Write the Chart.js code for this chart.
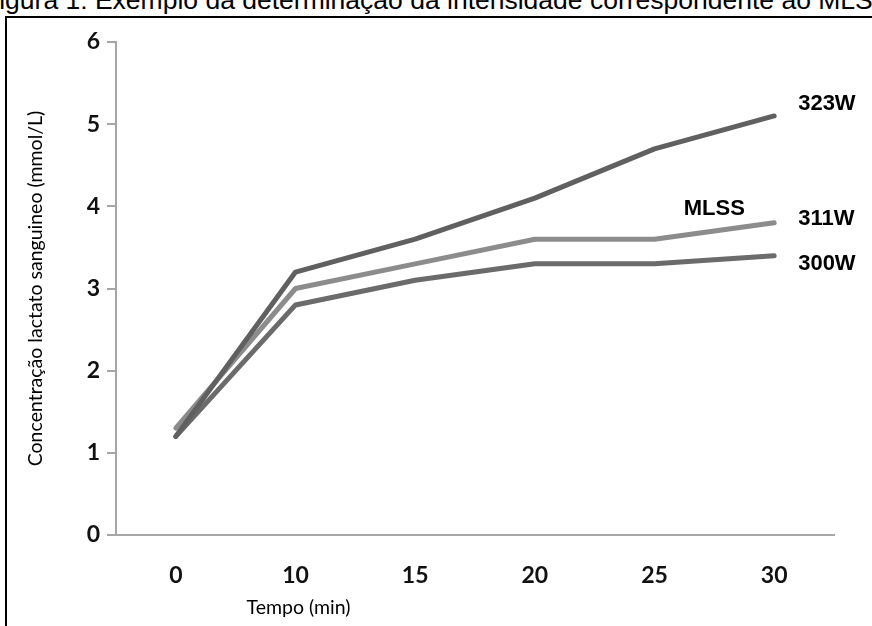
<!DOCTYPE html>
<html>
<head>
<meta charset="utf-8">
<script src="https://cdn.jsdelivr.net/npm/chart.js@4/dist/chart.umd.min.js"></script>
<style>
  html, body { margin: 0; padding: 0; background: #fff; }
  body { width: 872px; height: 626px; position: relative; overflow: hidden; }
  #caption {
    position: absolute; left: -17px; top: -15px; white-space: nowrap;
    font-family: "Liberation Sans", Arial, sans-serif; font-size: 26.5px; color: #000;
  }
  #frame {
    position: absolute; left: 5px; top: 16px; width: 900px; height: 700px;
    border-left: 2px solid #000; border-top: 2px solid #000;
  }
  #wrap { position: absolute; left: 0; top: 0; width: 872px; height: 626px; }
</style>
</head>
<body>
<div id="caption">Figura 1: Exemplo da determinação da intensidade correspondente ao MLSS</div>
<div id="frame"></div>
<div id="wrap"><canvas id="graph"></canvas></div>
<script>
// tempo (min)
const labels = ['0', '10', '15', '20', '25', '30'];

// lactato (mmol/L)
const w323 = [1.2, 3.2, 3.6, 4.1, 4.7, 5.1];
const w311 = [1.3, 3.0, 3.3, 3.6, 3.6, 3.8];
const w300 = [1.2, 2.8, 3.1, 3.3, 3.3, 3.4];

const seriesNames = ['323W', '311W', '300W'];
const yTicks = [0, 1, 2, 3, 4, 5, 6];

const soft = 'Lato, "Open Sans", sans-serif';
const bold = '"Liberation Sans", Arial, sans-serif';

// labels at the end of each line + MLSS + x title
const endLabels = {
  id: 'endLabels',
  afterDraw(chart) {
    const ctx = chart.ctx;
    const x = chart.scales.x, y = chart.scales.y;
    const offs = [-12, -4, 8];
    ctx.save();
    ctx.fillStyle = '#000';
    ctx.font = 'bold 22px ' + bold;
    ctx.textAlign = 'left';
    ctx.textBaseline = 'middle';
    chart.data.datasets.forEach((ds, i) => {
      const meta = chart.getDatasetMeta(i);
      const pt = meta.data[meta.data.length - 1];
      ctx.fillText(ds.label, pt.x + 24, pt.y + offs[i]);
    });
    // MLSS marker text, between 25 and 30 min
    ctx.textAlign = 'center';
    const mx = (x.getPixelForValue(4) + x.getPixelForValue(5)) / 2;
    ctx.fillText('MLSS', mx, y.getPixelForValue(3.97));
    // x axis title
    ctx.font = '19.5px ' + soft;
    ctx.fillText('Tempo (min)', x.getPixelForValue(1) + 3, 608);
    ctx.restore();
  }
};

function ds(label, data, color) {
  return {
    label, data,
    borderColor: color, backgroundColor: color,
    borderWidth: 5, pointRadius: 0, pointHoverRadius: 0,
    borderCapStyle: 'round', borderJoinStyle: 'round',
    tension: 0, fill: false
  };
}

new Chart(document.getElementById('graph'), {
  type: 'line',
  data: {
    labels: labels,
    datasets: [
      ds(seriesNames[0], w323, '#606060'),
      ds(seriesNames[1], w311, '#8c8c8c'),
      ds(seriesNames[2], w300, '#6b6b6b')
    ]
  },
  options: {
    responsive: true,
    maintainAspectRatio: false,
    animation: false,
    events: [],
    layout: { padding: { left: 0, top: 42, right: 38, bottom: 0 } },
    plugins: { legend: { display: false }, tooltip: { enabled: false } },
    scales: {
      x: {
        offset: true,
        grid: { display: false, drawTicks: false },
        border: { display: true, color: '#a6a6a6', width: 2 },
        ticks: { color: '#111', font: { family: soft, size: 23, weight: 'bold' }, padding: 27 },
        afterFit(s) { s.height = 91; }
      },
      y: {
        min: 0, max: 6,
        afterBuildTicks(s) { s.ticks = yTicks.map(v => ({ value: v })); },
        grid: { drawOnChartArea: false, drawTicks: true, tickLength: 9, color: '#a6a6a6', lineWidth: 2 },
        border: { display: true, color: '#a6a6a6', width: 2 },
        ticks: { color: '#111', font: { family: soft, size: 23, weight: 'bold' }, padding: 7 },
        title: {
          display: true,
          text: 'Concentração lactato sanguineo (mmol/L)',
          color: '#000',
          font: { family: soft, size: 19.5 },
          padding: { top: 24, bottom: 0 }
        },
        afterFit(s) { s.width = 116; }
      }
    }
  },
  plugins: [endLabels]
});
</script>
</body>
</html>
